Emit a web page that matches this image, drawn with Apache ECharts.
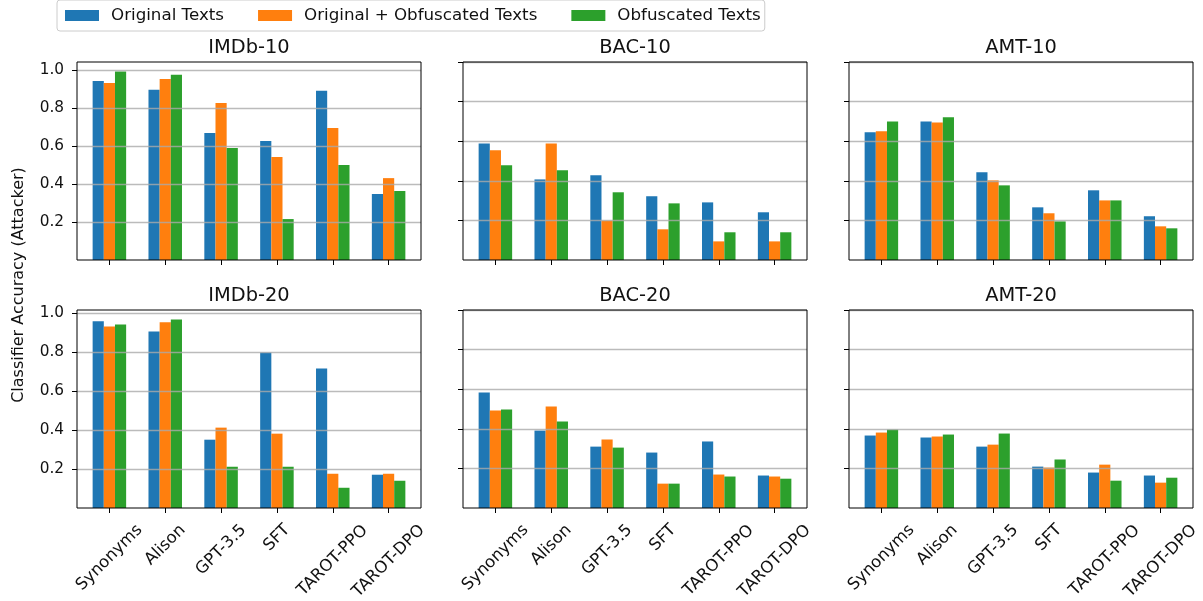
<!DOCTYPE html>
<html>
<head>
<meta charset="utf-8">
<script src="https://cdn.jsdelivr.net/npm/echarts@6/dist/echarts.min.js"></script>
<style>
html, body { margin: 0; padding: 0; background: #fff; }
#chart { width: 1203px; height: 601px; }
</style>
</head>
<body>
<div id="chart"></div>
<script>
// categories / legend names / panel titles
const CATEGORIES = ['Synonyms', 'Alison', 'GPT-3.5', 'SFT', 'TAROT-PPO', 'TAROT-DPO'];
const SERIES_NAMES = ['Original Texts', 'Original + Obfuscated Texts', 'Obfuscated Texts'];
const PANEL_TITLES = ['IMDb-10', 'BAC-10', 'AMT-10', 'IMDb-20', 'BAC-20', 'AMT-20'];
const Y_TICKS = [0.2, 0.4, 0.6, 0.8, 1.0];

// values, one array per panel and series
const imdb10Orig = [0.945, 0.898, 0.670, 0.628, 0.893, 0.348];
const imdb10Mix = [0.934, 0.955, 0.829, 0.543, 0.697, 0.432];
const imdb10Obf = [0.995, 0.977, 0.591, 0.216, 0.501, 0.364];
const bac10Orig = [0.589, 0.407, 0.428, 0.322, 0.291, 0.241];
const bac10Mix = [0.554, 0.589, 0.199, 0.155, 0.094, 0.094];
const bac10Obf = [0.478, 0.453, 0.342, 0.286, 0.140, 0.140];
const amt10Orig = [0.645, 0.700, 0.443, 0.266, 0.352, 0.221];
const amt10Mix = [0.650, 0.695, 0.402, 0.236, 0.301, 0.170];
const amt10Obf = [0.700, 0.721, 0.377, 0.195, 0.301, 0.160];
const imdb20Orig = [0.959, 0.907, 0.351, 0.799, 0.717, 0.171];
const imdb20Mix = [0.933, 0.954, 0.413, 0.382, 0.176, 0.176];
const imdb20Obf = [0.943, 0.969, 0.212, 0.212, 0.104, 0.140];
const bac20Orig = [0.583, 0.391, 0.310, 0.280, 0.336, 0.164];
const bac20Mix = [0.492, 0.513, 0.346, 0.123, 0.169, 0.159];
const bac20Obf = [0.497, 0.437, 0.305, 0.123, 0.159, 0.148];
const amt20Orig = [0.366, 0.356, 0.310, 0.209, 0.179, 0.164];
const amt20Mix = [0.381, 0.361, 0.320, 0.204, 0.219, 0.128];
const amt20Obf = [0.396, 0.371, 0.376, 0.245, 0.138, 0.153];

const PANEL_DATA = [
    [imdb10Orig, imdb10Mix, imdb10Obf],
    [bac10Orig, bac10Mix, bac10Obf],
    [amt10Orig, amt10Mix, amt10Obf],
    [imdb20Orig, imdb20Mix, imdb20Obf],
    [bac20Orig, bac20Mix, bac20Obf],
    [amt20Orig, amt20Mix, amt20Obf],
];
// IMDb panels autoscale (5% headroom), the others are fixed to [0, 1]
const AUTO_Y = [true, false, false, true, false, false];

// layout
const FONT = '"DejaVu Sans", sans-serif';
const COLORS = ['#1f77b4', '#ff7f0e', '#2ca02c'];
const COL_LEFT = [77, 463, 849];
const ROW_TOP = [62, 310];
const PANEL_W = 344;
const PANEL_H = 198;
const X_MIN = -0.58;
const X_MAX = 5.58;
const BAR_W = 0.2 * PANEL_W / (X_MAX - X_MIN);
const X_POS = CATEGORIES.map((c, i) => i);
const XLABEL_SIZE = 16.5;

// rotated x labels: matplotlib centres the rotated box under the tick,
// so push each label down by half of its rotated extent
const ctx = document.createElement('canvas').getContext('2d');
ctx.font = XLABEL_SIZE + 'px "DejaVu Sans"';
const labelRich = {};
CATEGORIES.forEach((c, i) => {
    const p = Math.round((ctx.measureText(c).width + XLABEL_SIZE * 1.16) / 2);
    labelRich['c' + i] = { padding: [p, p, 0, 0] };
});

const chart = echarts.init(document.getElementById('chart'), null, { renderer: 'canvas' });

const grids = [];
const xAxes = [];
const yAxes = [];
const titles = [];
const series = [];

PANEL_TITLES.forEach((name, k) => {
    const row = Math.floor(k / 3);
    const col = k % 3;
    const data = PANEL_DATA[k];
    const yMax = AUTO_Y[k] ? Math.max(...data.flat()) * 1.05 : 1;

    grids.push({
        left: COL_LEFT[col],
        top: ROW_TOP[row],
        width: PANEL_W,
        height: PANEL_H,
        show: true,
        borderColor: '#000',
        borderWidth: 1,
        backgroundColor: 'transparent',
        z: 4,
        outerBoundsMode: 'none',
    });

    xAxes.push({
        type: 'value',
        gridIndex: k,
        min: X_MIN,
        max: X_MAX,
        axisLine: { show: false, onZero: false },
        splitLine: { show: false },
        axisTick: {
            show: true,
            length: 5,
            customValues: X_POS,
            lineStyle: { color: '#000', width: 1 },
        },
        axisLabel: {
            show: row === 1,
            customValues: X_POS,
            rotate: 45,
            align: 'center',
            verticalAlign: 'middle',
            margin: 13,
            fontSize: XLABEL_SIZE,
            fontFamily: FONT,
            color: '#111',
            formatter: (v) => '{c' + v + '|' + CATEGORIES[v] + '}',
            rich: labelRich,
        },
    });

    yAxes.push({
        type: 'value',
        gridIndex: k,
        min: 0,
        max: yMax,
        z: 3,
        axisLine: { show: false, onZero: false },
        axisTick: {
            show: true,
            length: 5,
            customValues: Y_TICKS,
            lineStyle: { color: '#000', width: 1 },
        },
        axisLabel: {
            show: col === 0,
            customValues: Y_TICKS,
            margin: 13,
            fontSize: 15.3,
            fontFamily: FONT,
            color: '#111',
            formatter: (v) => v.toFixed(1),
        },
        splitLine: {
            show: true,
            lineStyle: { color: 'rgba(170,170,170,0.8)', width: 1.3 },
        },
    });

    titles.push({
        text: name,
        left: COL_LEFT[col] + PANEL_W / 2,
        top: ROW_TOP[row] - 24,
        textAlign: 'center',
        padding: 0,
        textStyle: { fontSize: 19.4, fontWeight: 'normal', fontFamily: FONT, color: '#111' },
    });

    SERIES_NAMES.forEach((s, j) => {
        series.push({
            type: 'bar',
            name: s,
            xAxisIndex: k,
            yAxisIndex: k,
            barWidth: BAR_W,
            barGap: '0%',
            itemStyle: { color: COLORS[j] },
            emphasis: { disabled: true },
            data: data[j].map((v, i) => [X_POS[i], v]),
        });
    });
});

chart.setOption({
    animation: false,
    backgroundColor: '#fff',
    title: titles,
    legend: {
        data: SERIES_NAMES,
        left: 57,
        top: 0,
        icon: 'rect',
        itemWidth: 34,
        itemHeight: 11,
        itemGap: 34,
        padding: [7, 4, 7, 8],
        borderColor: '#cccccc',
        borderWidth: 1,
        borderRadius: 3,
        textStyle: { fontSize: 16.7, fontFamily: FONT, color: '#111', padding: [0, 0, 0, 7] },
    },
    grid: grids,
    xAxis: xAxes,
    yAxis: yAxes,
    graphic: [{
        type: 'text',
        x: 19,
        y: 285,
        rotation: Math.PI / 2,
        style: {
            text: 'Classifier Accuracy (Attacker)',
            fontSize: 16,
            fontFamily: FONT,
            fill: '#111',
            align: 'center',
            verticalAlign: 'middle',
        },
    }],
    series: series,
});
</script>
</body>
</html>
